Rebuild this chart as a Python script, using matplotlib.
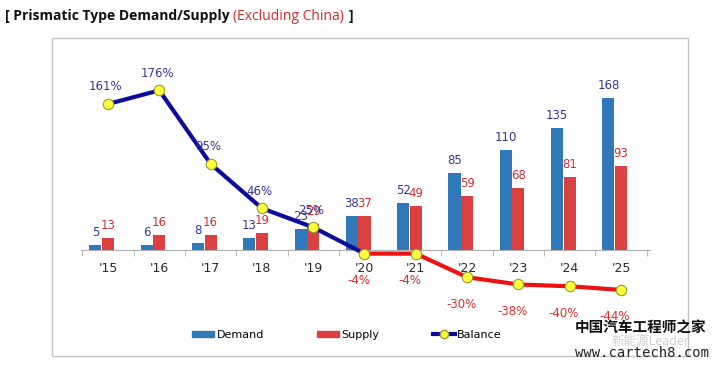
import numpy as np
import matplotlib
matplotlib.use("Agg")
import matplotlib.pyplot as plt
from matplotlib.patches import Rectangle, Patch
from matplotlib.lines import Line2D

# data
years = ["'15", "'16", "'17", "'18", "'19", "'20", "'21", "'22", "'23", "'24", "'25"]
demand = [5, 6, 8, 13, 23, 38, 52, 85, 110, 135, 168]
supply = [13, 16, 16, 19, 29, 37, 49, 59, 68, 81, 93]
balance = [161, 176, 95, 46, 25, -4, -4, -30, -38, -40, -44]

c_dem = "#2f78b9"
c_sup = "#d9403f"
c_dem_txt = "#35359a"
c_sup_txt = "#cf2f32"

W, H = 720, 368
fig = plt.figure(figsize=(7.2, 3.68), dpi=100)

# axes placed in pixels: zero line at y=250, one unit ~0.907 px
left_px, right_px = 81.3, 649.7
top_px, bot_px = 40, 330
ax = fig.add_axes([left_px / W, (H - bot_px) / H, (right_px - left_px) / W, (bot_px - top_px) / H])
ax.set_xlim(-0.52, 10.56)
ax.set_ylim(-(bot_px - 250) / 0.907, (250 - top_px) / 0.907)
ax.patch.set_alpha(0)

x = np.arange(len(years))
bw = 0.235
ax.bar(x - 0.245, demand, bw, color=c_dem, zorder=2)
ax.bar(x + 0.0, supply, bw, color=c_sup, zorder=2)

for xi, d, s in zip(x, demand, supply):
    ax.annotate(str(d), (xi - 0.245, d), xytext=(0, 6), textcoords="offset pixels",
                ha="center", va="bottom", fontsize=8.5, color=c_dem_txt)
    ax.annotate(str(s), (xi, s), xytext=(0, 6), textcoords="offset pixels",
                ha="center", va="bottom", fontsize=8.5, color=c_sup_txt)

# balance line: blue while positive, red from '20 on
ax.plot(x[:6], balance[:6], color="#0c0c9c", lw=3, zorder=3, solid_capstyle="round")
ax.plot(x[5:], balance[5:], color="#ee1111", lw=3, zorder=3, solid_capstyle="round")
ax.plot(x, balance, ls="none", marker="o", ms=7.5, mfc="#ffff3a", mec="#9a9a30", mew=0.8, zorder=4)

for xi, b in zip(x, balance):
    if b > 0:
        ax.annotate(f"{b}%", (xi, b), xytext=(-2, 17), textcoords="offset pixels",
                    ha="center", va="center", fontsize=8.5, color=c_dem_txt, zorder=5)
    else:
        ax.annotate(f"{b}%", (xi, b), xytext=(-6, -27), textcoords="offset pixels",
                    ha="center", va="center", fontsize=8.5, color="#e02a2a", zorder=5)

# axis styling
for s in ["left", "right", "top"]:
    ax.spines[s].set_visible(False)
ax.spines["bottom"].set_position(("data", 0))
ax.spines["bottom"].set_color("#b0b0b0")
ax.set_yticks([])
ax.set_xticks(x)
ax.set_xticklabels(years, fontsize=9, color="#2a2a2a")
ax.set_xticks(np.arange(-0.5, 11, 1), minor=True)
ax.tick_params(axis="x", which="major", length=0, pad=9)
ax.tick_params(axis="x", which="minor", length=4, color="#b0b0b0")

# frame around chart
fig.patches.append(Rectangle((52 / W, (H - 356) / H), 636 / W, 318 / H, transform=fig.transFigure,
                             fill=False, ec="#c4c4c4", lw=1))

# legend
handles = [Patch(color=c_dem), Patch(color=c_sup),
           Line2D([], [], color="#0c0c9c", lw=3, marker="o", ms=6, mfc="#ffff3a", mec="#9a9a30")]
fig.legend(handles, ["Demand", "Supply", "Balance"], loc="center", bbox_to_anchor=(347 / W, 1 - 335 / H),
           ncol=3, frameon=False, fontsize=8, handlelength=2.0, handleheight=0.5, handletextpad=0.2,
           columnspacing=4.8)

# title pieces
fig.canvas.draw()
r = fig.canvas.get_renderer()
t1 = fig.text(5 / W, 1 - 16 / H, "[ Prismatic Type Demand/Supply ", fontsize=10, fontweight="bold",
              family="Open Sans", va="center", color="#111111")
bb = t1.get_window_extent(r)
t2 = fig.text(bb.x1 / W, 1 - 16 / H, "(Excluding China)", fontsize=10, family="Open Sans",
              va="center", color="#d42a2a")
bb = t2.get_window_extent(r)
fig.text(bb.x1 / W + 0.006, 1 - 16 / H, "]", fontsize=10, fontweight="bold", family="Open Sans",
         va="center", color="#111111")

# watermark
fig.text(641 / W, 1 - 328 / H, "中国汽车工程师之家", fontsize=10.5, fontweight="bold",
         family=["Noto Sans CJK SC"], ha="center", va="center", color="#111111")
fig.text(650 / W, 1 - 341 / H, "新能源Leader", fontsize=9, family=["Noto Sans CJK SC"],
         ha="center", va="center", color="#d0d0d0")
fig.text(642 / W, 1 - 353 / H, "www.cartech8.com", fontsize=10, family="DejaVu Sans Mono",
         ha="center", va="center", color="#222222")

fig.savefig("out.png", dpi=100)
